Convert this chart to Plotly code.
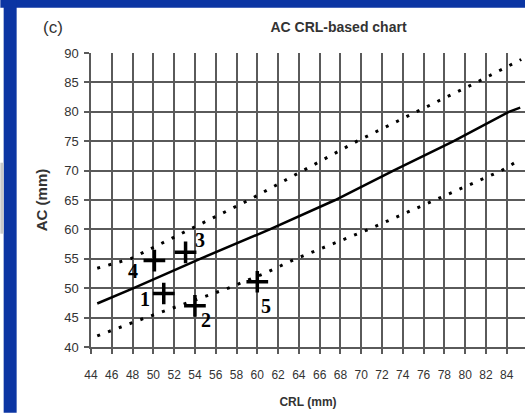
import plotly.graph_objects as go

# ---- data ----
crl_mean = [44.6, 48.1, 54.5, 61.2, 67.5, 73.1, 78.9, 84.2, 85.3]
ac_mean = [47.4, 50.0, 55.0, 60.0, 65.0, 70.0, 75.0, 80.0, 80.7]

crl_upper = [44.6, 47.8, 53.5, 59.2, 64.4, 69.6, 75.3, 81.1, 85.4]
ac_upper = [53.4, 55.0, 60.0, 65.0, 70.0, 75.0, 80.0, 85.0, 88.9]

crl_lower = [44.6, 49.3, 57.2, 60.8, 63.7, 70.7, 77.1, 83.5, 85.3]
ac_lower = [41.9, 45.0, 50.0, 52.6, 55.0, 60.0, 65.0, 70.0, 71.9]

case_labels = ["1", "2", "3", "4", "5"]
case_crl = [51.0, 54.0, 53.1, 50.1, 60.0]
case_ac = [49.1, 47.0, 56.1, 54.7, 51.1]

x_ticks = list(range(44, 85, 2))
y_ticks = list(range(40, 91, 5))
y_grid = list(range(45, 90, 5))

# ---- layout geometry (pixels) ----
W, H = 525, 413
ML, MR, MT, MB = 90.7, 0, 53.3, 65.7
PW = W - ML - MR
PH = H - MT - MB
X_MAX = 44 + PW / 10.4


def px_x(p):
    return (p - ML) / PW


def px_y(p):
    return 1 - (p - MT) / PH


# label offsets (pixels) relative to each case marker
label_dx = [-18.3, 11.0, 14.3, -21.6, 8.3]
label_dy = [-5.5, -14.5, 12.0, -10.5, -24.5]

fig = go.Figure()

dot = "3px,8.5px"
fig.add_trace(go.Scatter(x=crl_upper, y=ac_upper, mode="lines",
                         line=dict(color="black", width=3, dash=dot),
                         hoverinfo="skip"))
fig.add_trace(go.Scatter(x=crl_lower, y=ac_lower, mode="lines",
                         line=dict(color="black", width=3, dash=dot),
                         hoverinfo="skip"))
fig.add_trace(go.Scatter(x=crl_mean, y=ac_mean, mode="lines",
                         line=dict(color="black", width=2.5),
                         hoverinfo="skip"))
fig.add_trace(go.Scatter(x=case_crl, y=case_ac, mode="markers",
                         marker=dict(symbol="cross-thin", size=15.5,
                                     line=dict(color="black", width=3.5)),
                         hoverinfo="skip"))

for lab, cx, cy, dx, dy in zip(case_labels, case_crl, case_ac, label_dx, label_dy):
    fig.add_annotation(x=cx, y=cy, text=lab, showarrow=False,
                       xshift=dx, yshift=dy,
                       font=dict(family="Liberation Serif", size=20, color="black",
                                 weight="bold"))

# "(c)" panel label
fig.add_annotation(xref="paper", yref="paper", x=px_x(52.5), y=px_y(28),
                   text="(c)", showarrow=False, xanchor="center", yanchor="middle",
                   font=dict(family="Liberation Sans", size=17, color="#333333"))

BLUE = "#0b35a3"
shapes = [
    dict(type="rect", xref="paper", yref="paper", x0=px_x(0), x1=px_x(W),
         y0=px_y(0), y1=px_y(8), fillcolor=BLUE, line=dict(width=0)),
    dict(type="rect", xref="paper", yref="paper", x0=px_x(3.3), x1=px_x(16.3),
         y0=px_y(0), y1=px_y(H), fillcolor=BLUE, line=dict(width=0)),
    dict(type="rect", xref="paper", yref="paper", x0=px_x(0), x1=px_x(3.3),
         y0=px_y(163), y1=px_y(234), fillcolor="#c9c9c9", line=dict(width=0)),
]

GRID = "#5a5a5a"
fig.update_layout(
    width=W, height=H,
    margin=dict(l=ML, r=MR, t=MT, b=MB, autoexpand=False),
    paper_bgcolor="white", plot_bgcolor="white",
    showlegend=False,
    shapes=shapes,
    title=dict(text="AC CRL-based chart", xref="container", yref="container",
               x=338.5 / W, y=1 - 27 / H, xanchor="center", yanchor="middle",
               font=dict(family="Liberation Sans", size=14, color="#333333",
                         weight="bold")),
    xaxis=dict(range=[44, X_MAX], tickmode="array", tickvals=x_ticks,
               showgrid=True, gridcolor=GRID, gridwidth=1.5,
               showline=True, linecolor=GRID, linewidth=1.5,
               zeroline=False, ticks="outside", ticklen=5, tickwidth=1.5,
               tickcolor=GRID, ticklabelstandoff=11,
               tickfont=dict(family="Liberation Sans", size=12, color="#333333"),
               title=dict(text="CRL (mm)", standoff=16,
                          font=dict(family="Liberation Sans", size=12,
                                    color="#333333", weight="bold"))),
    yaxis=dict(range=[40, 90], tickmode="array", tickvals=y_ticks,
               showgrid=False,
               minor=dict(tickmode="array", tickvals=y_grid, showgrid=True,
                          gridcolor=GRID, gridwidth=1.5, ticks=""),
               showline=True, linecolor=GRID, linewidth=1.5,
               zeroline=False, ticks="outside", ticklen=5, tickwidth=1.5,
               tickcolor=GRID, ticklabelstandoff=3,
               tickfont=dict(family="Liberation Sans", size=13, color="#333333"),
               title=dict(text="AC (mm)", standoff=13,
                          font=dict(family="Liberation Sans", size=15,
                                    color="#333333", weight="bold"))),
)

fig.write_html("out.html")
